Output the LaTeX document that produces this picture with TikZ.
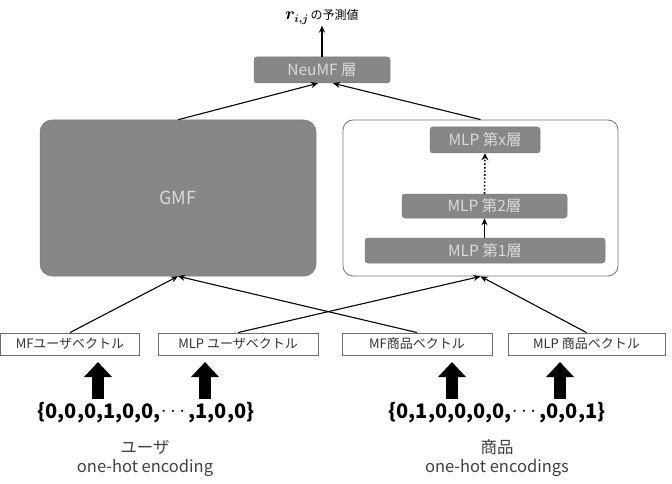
\documentclass[tikz,border=0pt]{standalone}
\usepackage{amsmath}
\usepackage{fontspec}
\setmainfont{Noto Sans CJK JP}
\usetikzlibrary{arrows.meta}
\definecolor{boxgray}{HTML}{878787}
\definecolor{txtgray}{HTML}{DADADA}
\definecolor{edgegray}{HTML}{6E6E6E}
\newcommand{\middots}{\raisebox{0.1em}{$\cdots$}}
\begin{document}
\begin{tikzpicture}[x=1pt,y=-1pt,
  layer/.style={draw=boxgray!90!black,fill=boxgray,rounded corners=3pt,text=txtgray,font=\fontsize{15.5}{15.5}\selectfont,inner sep=0pt,line width=0.5pt},
  vecbox/.style={draw=edgegray,line width=0.9pt,minimum height=22pt,inner sep=0pt,font=\fontsize{13}{13}\selectfont,text=black!80},
  conn/.style={line width=1.1pt,-{Stealth[length=7pt,width=6pt]}},
  bigarrow/.style={line width=12pt,-{Triangle[length=15pt,width=27pt]}},
  lbl/.style={inner sep=0pt,text=black!75,font=\fontsize{16.5}{16.5}\selectfont}]
\useasboundingbox (0,0) rectangle (672,484);
% top
\node[inner sep=1pt] (out) at (322,17) {\fontsize{16}{16}\selectfont$\boldsymbol{r_{i,j}}$\fontsize{12}{12}\selectfont\,の予測値};
\node[layer,minimum width=136pt,minimum height=26pt] (neumf) at (322,70) {NeuMF 層};
% blocks
\node[layer,rounded corners=12pt,minimum width=276pt,minimum height=156pt,font=\fontsize{18}{18}\selectfont] (gmf) at (178,198) {GMF};
\node[draw=black!55,line width=0.8pt,rounded corners=10pt,minimum width=275pt,minimum height=156pt,inner sep=0pt] (mlp) at (480.5,198) {};
\node[layer,minimum width=110pt,minimum height=26pt] (mlpx) at (485,140) {MLP 第x層};
\node[layer,minimum width=165pt,minimum height=24pt] (mlp2) at (484.5,206) {MLP 第2層};
\node[layer,minimum width=240pt,minimum height=25pt] (mlp1) at (485,250.5) {MLP 第1層};
% vectors
\node[vecbox,minimum width=139pt] (mfu) at (70,344) {MFユーザベクトル};
\node[vecbox,minimum width=160pt] (mlpu) at (238,344) {MLP ユーザベクトル};
\node[vecbox,minimum width=150pt] (mfi) at (417,344) {MF商品ベクトル};
\node[vecbox,minimum width=157pt] (mlpi) at (586.5,344) {MLP 商品ベクトル};
% one-hot
\node[inner sep=0pt,font=\fontsize{20}{20}\selectfont\bfseries] (uset) at (146,413) {\{0,0,0,1,0,0,\middots,1,0,0\}};
\node[inner sep=0pt,font=\fontsize{20}{20}\selectfont\bfseries] (iset) at (497,413) {\{0,1,0,0,0,0,\middots,0,0,1\}};
\node[lbl] (ulab) at (145,447) {ユーザ};
\node[lbl] (uenc) at (145,468) {one-hot encoding};
\node[lbl] (ilab) at (497,447) {商品};
\node[lbl] (ienc) at (497,468) {one-hot encodings};
\coordinate (a1s) at (98,399); \coordinate (a1e) at (98,362);
\coordinate (a2s) at (205,399); \coordinate (a2e) at (205,362);
\coordinate (a3s) at (452,399); \coordinate (a3e) at (452,362);
\coordinate (a4s) at (560,399); \coordinate (a4e) at (560,362);
\foreach \i in {1,2,3,4} \draw[bigarrow] (a\i s) -- (a\i e);
% connectors
\draw[conn] (neumf.north) -- (out.south);
\draw[conn] (gmf.north) -- ([xshift=-4pt]neumf.south);
\draw[conn] (mlp.north) -- ([xshift=11pt]neumf.south);
\draw[conn] (mlp1.north -| mlp2) -- (mlp2.south);
\draw[line width=1.6pt,dotted,-{Stealth[length=7pt,width=7pt]}] (mlp2.north) -- (mlpx.south);
\draw[conn] (mfu.north) -- (gmf.south);
\draw[conn] (mfi.north) -- (gmf.south);
\draw[conn] (mlpu.north) -- (mlp.south);
\draw[conn] (mlpi.north) -- (mlp.south);
\end{tikzpicture}
\end{document}
